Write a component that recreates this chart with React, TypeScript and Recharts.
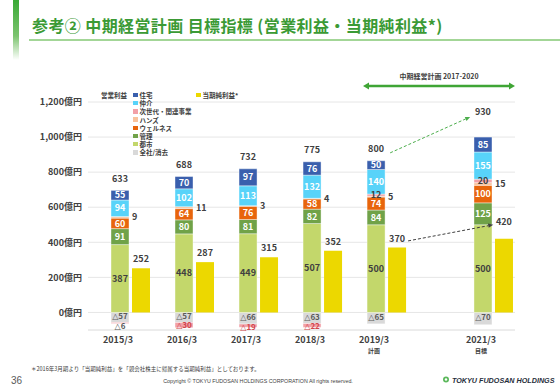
import React from 'react';
import { BarChart, Bar, XAxis, YAxis, CartesianGrid, ReferenceLine, LabelList } from 'recharts';

// 年度
const years = ['2015/3', '2016/3', '2017/3', '2018/3', '2019/3', '2021/3'];
const yearNotes = ['', '', '', '', '計画', '目標'];

// 営業利益 セグメント別 (億円)
const toshi = [387, 448, 449, 507, 500, 500];
const kanri = [91, 80, 81, 82, 84, 125];
const wellness = [60, 64, 76, 58, 74, 100];
const hands = [9, 11, 3, 4, 5, 15];
const jisedai = [-6, -30, -19, -22, 12, 20];
const chukai = [94, 102, 113, 132, 140, 155];
const jutaku = [55, 70, 97, 76, 50, 85];
const zensha = [-57, -57, -66, -63, -65, -70];
const opTotal = [633, 688, 732, 775, 800, 930];

// 当期純利益*
const netIncome = [252, 287, 315, 352, 370, 420];

const yTicks = [0, 200, 400, 600, 800, 1000, 1200];

const FONT = '"Noto Sans CJK JP", "Noto Sans", sans-serif';
const TEXT = '#404040';

// 2020/3 が無いので最後の年度だけ少し離す
const LAST_GAP = 0.67;
const positions = years.map((_, i) => (i === years.length - 1 ? i + LAST_GAP : i));

const seriesValues: { [key: string]: number[] } = {
  zensha, toshi, kanri, wellness, hands, jisedai, chukai, jutaku,
};

const rows = years.map((year, i) => ({
  pos: positions[i],
  year,
  zensha: zensha[i],
  toshi: toshi[i],
  kanri: kanri[i],
  wellness: wellness[i],
  hands: hands[i],
  jisedai: jisedai[i],
  chukai: chukai[i],
  jutaku: jutaku[i],
  ni: netIncome[i],
}));

// 積み上げ順 (下から)。全社/消去は常にマイナスなので先頭に置く
const stackSeries = [
  { key: 'zensha', name: '全社/消去', color: '#d9d9d9', label: '#595959' },
  { key: 'toshi', name: '都市', color: '#c3d76b', label: TEXT },
  { key: 'kanri', name: '管理', color: '#70a248', label: '#fff' },
  { key: 'wellness', name: 'ウェルネス', color: '#e8650c', label: '#fff' },
  { key: 'hands', name: 'ハンズ', color: '#f9c39c', label: TEXT },
  { key: 'jisedai', name: '次世代・関連事業', color: '#f2a0a7', label: TEXT },
  { key: 'chukai', name: '仲介', color: '#58d3f9', label: '#fff' },
  { key: 'jutaku', name: '住宅', color: '#3a5fad', label: '#fff' },
];

const legendOrder = ['jutaku', 'chukai', 'jisedai', 'hands', 'wellness', 'kanri', 'toshi', 'zensha'];

const Num = ({ v }: { v: number }) =>
  v < 0 ? (
    <>
      <tspan fontFamily='"DejaVu Sans", sans-serif' fontWeight={400}>△</tspan>
      {-v}
    </>
  ) : (
    <>{v}</>
  );

const segmentLabel = (key: string, color: string) => (props: any) => {
  const { x, y, width, height, index } = props;
  const v = seriesValues[key][index];
  if (!v) return null;
  const cx = x + width / 2;
  const top = Math.min(y, y + height);
  const bottom = Math.max(y, y + height);
  if (key === 'hands') {
    return (
      <text x={x + width + 3} y={(top + bottom) / 2} dy="0.35em" fontSize={9} fontWeight={700} fill={TEXT} fontFamily={FONT}>
        {v}
      </text>
    );
  }
  let fill = color;
  let cy = (top + bottom) / 2;
  let size = 9;
  if (v < 0) {
    size = 8;
    if (key === 'zensha') cy -= 1;
    if (key === 'jisedai') {
      if (-v < 10) {
        fill = '#595959';
        cy = bottom + 3;
      } else {
        fill = '#d0454c';
        cy = Math.max(cy, top + 3);
      }
    }
  }
  return (
    <text x={cx} y={cy} dy="0.35em" textAnchor="middle" fontSize={size} fontWeight={700} fill={fill} fontFamily={FONT}>
      <Num v={v} />
    </text>
  );
};

const totalLabel = (props: any) => {
  const { x, y, width, height, index } = props;
  const top = Math.min(y, y + height);
  // 2021/3 は矢印の先に置く
  const lift = index === years.length - 1 ? 25 : 12;
  return (
    <text x={x + width / 2} y={top - lift} dy="0.35em" textAnchor="middle" fontSize={9} fontWeight={700} fill={TEXT} fontFamily={FONT}>
      {opTotal[index]}
    </text>
  );
};

const niLabel = (props: any) => {
  const { x, y, width, height, index } = props;
  const top = Math.min(y, y + height);
  const lift = index === years.length - 1 ? 17 : 9;
  return (
    <text x={x + width / 2} y={top - lift} dy="0.35em" textAnchor="middle" fontSize={9} fontWeight={700} fill={TEXT} fontFamily={FONT}>
      {netIncome[index]}
    </text>
  );
};

const YearTick = (props: any) => {
  const { x, y, payload } = props;
  const i = positions.indexOf(payload.value);
  if (i < 0) return null;
  return (
    <g>
      <text x={x - 2} y={y + 10} dy="0.35em" textAnchor="middle" fontSize={9} fontWeight={700} fill={TEXT} fontFamily={FONT}>
        {years[i]}
      </text>
      {yearNotes[i] && (
        <text x={x - 2} y={y + 21} dy="0.35em" textAnchor="middle" fontSize={6} fontWeight={700} fill={TEXT} fontFamily={FONT}>
          {yearNotes[i]}
        </text>
      )}
    </g>
  );
};

const arrowShape = (color: string) => (props: any) => {
  const { x1, y1, x2, y2 } = props;
  if ([x1, y1, x2, y2].some((v) => typeof v !== 'number' || isNaN(v))) return <g />;
  const ang = Math.atan2(y2 - y1, x2 - x1);
  const L = 5;
  const W = 2.2;
  const bx = x2 - L * Math.cos(ang);
  const by = y2 - L * Math.sin(ang);
  const pts = `${x2},${y2} ${bx - W * Math.sin(ang)},${by + W * Math.cos(ang)} ${bx + W * Math.sin(ang)},${by - W * Math.cos(ang)}`;
  return (
    <g>
      <line x1={x1} y1={y1} x2={bx} y2={by} stroke={color} strokeWidth={1} strokeDasharray="3 2" />
      <polygon points={pts} fill={color} />
    </g>
  );
};

const App: React.FC = () => {
  const seriesByKey: { [key: string]: (typeof stackSeries)[number] } = {};
  stackSeries.forEach((s) => (seriesByKey[s.key] = s));
  const last = years.length - 1;

  return (
    <div style={{ position: 'relative', width: 560, height: 388, background: '#fff', overflow: 'hidden', fontFamily: FONT }}>
      <style>{'body{margin:0}'}</style>

      {/* タイトル */}
      <div style={{ position: 'absolute', left: 13, top: 0, width: 6, height: 60, background: 'linear-gradient(#39a935 0%, #7cc46f 60%, #ffffff 100%)' }} />
      <div style={{ position: 'absolute', left: 32, top: 13, fontSize: 16, fontWeight: 700, color: '#3b9a35', whiteSpace: 'nowrap', letterSpacing: 0.4 }}>
        参考② 中期経営計画 目標指標 (営業利益・当期純利益*)
      </div>
      <div style={{ position: 'absolute', left: 29, top: 39, width: 531, height: 1.5, background: '#a3d697' }} />

      {/* 中期経営計画 期間 */}
      <div style={{ position: 'absolute', left: 364, width: 150, top: 71, textAlign: 'center', fontSize: 7, fontWeight: 700, color: TEXT }}>
        中期経営計画 2017-2020
      </div>
      <svg style={{ position: 'absolute', left: 0, top: 0 }} width={560} height={388}>
        <line x1={368} y1={86} x2={510} y2={86} stroke="#3fa535" strokeWidth={2.5} />
        <polygon points="363,86 369,82.5 369,89.5" fill="#3fa535" />
        <polygon points="515,86 509,82.5 509,89.5" fill="#3fa535" />
      </svg>

      <div style={{ position: 'absolute', left: 0, top: 0 }}>
        <BarChart
          width={560}
          height={388}
          data={rows}
          stackOffset="sign"
          barSize={18}
          barGap={3}
          margin={{ top: 102, right: 45, left: 28, bottom: 28 }}
        >
          <CartesianGrid horizontal vertical={false} stroke="#e6e6e6" />
          <ReferenceLine y={-100} stroke="#e6e6e6" />
          <XAxis
            type="number"
            dataKey="pos"
            domain={[-0.5, positions[last] + 0.5]}
            ticks={positions}
            interval={0}
            allowDataOverflow
            axisLine={false}
            tickLine={false}
            tickSize={0}
            tickMargin={0}
            height={30}
            tick={<YearTick />}
          />
          <YAxis
            type="number"
            domain={[-100, 1200]}
            ticks={yTicks}
            interval={0}
            width={60}
            axisLine={false}
            tickLine={false}
            tickSize={0}
            tickMargin={6}
            tickFormatter={(v: number) => `${v.toLocaleString()}億円`}
            tick={{ fontSize: 9, fontWeight: 700, fill: TEXT, fontFamily: FONT }}
          />
          {/* 左側の空き枠 (棒グループを年度ラベルの中心に合わせるため) */}
          <Bar dataKey="spacer" stackId="a" fill="none" isAnimationActive={false} />
          {stackSeries.map((s) => (
            <Bar
              key={s.key}
              dataKey={s.key}
              name={s.name}
              stackId="op"
              fill={s.color}
              stroke="#ffffff"
              strokeWidth={0.4}
              isAnimationActive={false}
            >
              <LabelList dataKey={s.key} content={segmentLabel(s.key, s.label)} />
              {s.key === 'jutaku' && <LabelList dataKey={s.key} content={totalLabel} />}
            </Bar>
          ))}
          <Bar dataKey="ni" stackId="z" name="当期純利益*" fill="#ecd800" isAnimationActive={false}>
            <LabelList dataKey="ni" content={niLabel} />
          </Bar>
          <ReferenceLine
            ifOverflow="visible"
            segment={[
              { x: positions[4] + 0.22, y: opTotal[4] + 110 },
              { x: positions[last] - 0.2, y: opTotal[last] + 185 },
            ]}
            shape={arrowShape('#4cae4c')}
          />
          <ReferenceLine
            ifOverflow="visible"
            segment={[
              { x: positions[4] + 0.5, y: netIncome[4] + 38 },
              { x: positions[last] + 0.16, y: toshi[last] },
            ]}
            shape={arrowShape('#404040')}
          />
        </BarChart>
      </div>

      {/* 凡例 */}
      <div style={{ position: 'absolute', left: 101, top: 91, fontSize: 6.5, fontWeight: 700, color: TEXT, lineHeight: '8px' }}>営業利益</div>
      {legendOrder.map((k, i) => (
        <div key={k} style={{ position: 'absolute', left: 133, top: 91 + i * 8.2, display: 'flex', alignItems: 'center', height: 8, whiteSpace: 'nowrap' }}>
          <div style={{ width: 4.5, height: 4.5, background: seriesByKey[k].color, marginRight: 2 }} />
          <span style={{ fontSize: 6.5, fontWeight: 700, color: TEXT, lineHeight: '8px' }}>{seriesByKey[k].name}</span>
        </div>
      ))}
      <div style={{ position: 'absolute', left: 196, top: 91, display: 'flex', alignItems: 'center', height: 8, whiteSpace: 'nowrap' }}>
        <div style={{ width: 4.5, height: 4.5, background: '#ecd800', marginRight: 2 }} />
        <span style={{ fontSize: 6.5, fontWeight: 700, color: TEXT, lineHeight: '8px' }}>当期純利益*</span>
      </div>

      {/* 注記・フッター */}
      <div style={{ position: 'absolute', left: 31, top: 365, fontSize: 5.5, color: TEXT, whiteSpace: 'nowrap' }}>
        ＊2016年3月期より「当期純利益」を「親会社株主に帰属する当期純利益」としております。
      </div>
      <div style={{ position: 'absolute', left: 11, top: 375, fontSize: 10, color: '#595959', fontFamily: '"Liberation Sans", sans-serif' }}>36</div>
      <div style={{ position: 'absolute', left: 0, width: 516, top: 378, textAlign: 'center', fontSize: 5.3, color: TEXT, fontFamily: '"Liberation Sans", sans-serif', whiteSpace: 'nowrap' }}>
        Copyright © TOKYU FUDOSAN HOLDINGS CORPORATION All rights reserved.
      </div>
      <svg style={{ position: 'absolute', left: 0, top: 0 }} width={560} height={388}>
        <circle cx={446} cy={379.5} r={3} fill="#5cb85c" />
        <circle cx={446} cy={379.5} r={1.2} fill="#fff" />
        <text x={452} y={382.5} fontSize={7.2} fontWeight={700} fontStyle="italic" fill="#1f2d3a" fontFamily='"Liberation Sans", sans-serif'>
          TOKYU FUDOSAN HOLDINGS
        </text>
      </svg>
    </div>
  );
};

export default App;
